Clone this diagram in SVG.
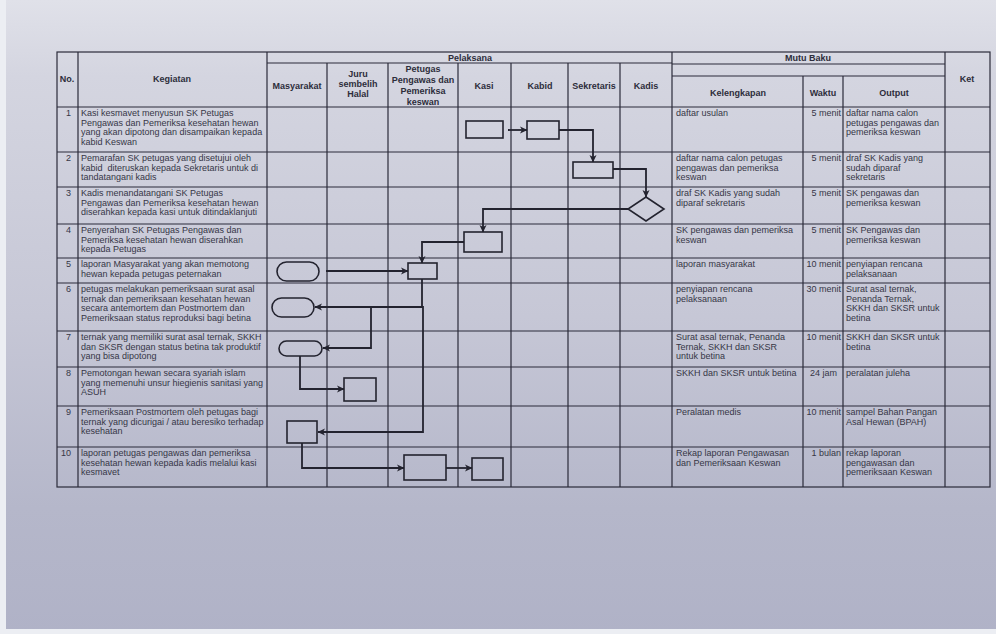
<svg xmlns="http://www.w3.org/2000/svg" width="996" height="634" viewBox="0 0 996 634">
<defs>
<linearGradient id="paper" x1="0" y1="0" x2="0" y2="1">
<stop offset="0" stop-color="#e0e1e9"/>
<stop offset="0.12" stop-color="#d4d5e0"/>
<stop offset="0.5" stop-color="#c6c7d6"/>
<stop offset="0.8" stop-color="#b5b7ca"/>
<stop offset="1" stop-color="#b0b2c7"/>
</linearGradient>
<marker id="ah" markerWidth="8" markerHeight="8" refX="7" refY="4" orient="auto" markerUnits="userSpaceOnUse">
<path d="M0,0.5 L7.5,4 L0,7.5 L2,4 Z" fill="#23232f"/>
</marker>
<style>
.grid{stroke:#2b2b3a;stroke-width:1.2;fill:none}
.sh{stroke:#23232f;stroke-width:1.6;fill:none}
.cn{stroke:#23232f;stroke-width:1.8;fill:none;marker-end:url(#ah)}
text{font-family:"Liberation Sans",Arial,sans-serif;fill:#363646}
.h{font-size:9px;font-weight:bold;text-anchor:middle;fill:#2d2d3b}
.t{font-size:9px}
.n{font-size:9px;text-anchor:end}
.w{font-size:9px;text-anchor:end}
</style>
</defs>
<rect x="0" y="0" width="996" height="634" fill="url(#paper)"/>
<rect x="0" y="0" width="6" height="634" fill="#eceef3"/>
<rect x="0" y="629" width="996" height="5" fill="#eceef3"/>

<g id="table">
<rect class="grid" x="57" y="52" width="933" height="435"/>
<line class="grid" x1="267" y1="63" x2="672" y2="63"/>
<line class="grid" x1="672" y1="64" x2="945" y2="64"/>
<line class="grid" x1="672" y1="76" x2="945" y2="76"/>
<line class="grid" x1="57" y1="107" x2="990" y2="107"/>
<line class="grid" x1="57" y1="152" x2="990" y2="152"/>
<line class="grid" x1="57" y1="187" x2="990" y2="187"/>
<line class="grid" x1="57" y1="224" x2="990" y2="224"/>
<line class="grid" x1="57" y1="258" x2="990" y2="258"/>
<line class="grid" x1="57" y1="283" x2="990" y2="283"/>
<line class="grid" x1="57" y1="331" x2="990" y2="331"/>
<line class="grid" x1="57" y1="367" x2="990" y2="367"/>
<line class="grid" x1="57" y1="406" x2="990" y2="406"/>
<line class="grid" x1="57" y1="447" x2="990" y2="447"/>
<line class="grid" x1="78" y1="52" x2="78" y2="487"/>
<line class="grid" x1="267" y1="52" x2="267" y2="487"/>
<line class="grid" x1="327" y1="63" x2="327" y2="487"/>
<line class="grid" x1="388" y1="63" x2="388" y2="487"/>
<line class="grid" x1="458" y1="63" x2="458" y2="487"/>
<line class="grid" x1="511" y1="63" x2="511" y2="487"/>
<line class="grid" x1="568" y1="63" x2="568" y2="487"/>
<line class="grid" x1="620" y1="63" x2="620" y2="487"/>
<line class="grid" x1="672" y1="52" x2="672" y2="487"/>
<line class="grid" x1="803" y1="76" x2="803" y2="487"/>
<line class="grid" x1="843" y1="76" x2="843" y2="487"/>
<line class="grid" x1="945" y1="52" x2="945" y2="487"/>
</g>

<g id="headers">
<text class="h" x="67" y="82">No.</text>
<text class="h" x="172" y="82">Kegiatan</text>
<text class="h" x="470" y="61">Pelaksana</text>
<text class="h" x="297" y="89">Masyarakat</text>
<text class="h" x="358" y="77">Juru</text>
<text class="h" x="358" y="87">sembelih</text>
<text class="h" x="358" y="97">Halal</text>
<text class="h" x="423" y="72">Petugas</text>
<text class="h" x="423" y="83">Pengawas dan</text>
<text class="h" x="423" y="94">Pemeriksa</text>
<text class="h" x="423" y="105">keswan</text>
<text class="h" x="484" y="89">Kasi</text>
<text class="h" x="540" y="89">Kabid</text>
<text class="h" x="594" y="89">Sekretaris</text>
<text class="h" x="646" y="89">Kadis</text>
<text class="h" x="808" y="61">Mutu Baku</text>
<text class="h" x="738" y="96">Kelengkapan</text>
<text class="h" x="823" y="96">Waktu</text>
<text class="h" x="894" y="96">Output</text>
<text class="h" x="967" y="82">Ket</text>
</g>

<g id="numbers">
<text class="n" x="71" y="116">1</text>
<text class="n" x="71" y="161">2</text>
<text class="n" x="71" y="196">3</text>
<text class="n" x="71" y="233">4</text>
<text class="n" x="71" y="267">5</text>
<text class="n" x="71" y="292">6</text>
<text class="n" x="71" y="340">7</text>
<text class="n" x="71" y="376">8</text>
<text class="n" x="71" y="415">9</text>
<text class="n" x="71" y="456">10</text>
</g>

<g id="kegiatan">
<text class="t" x="81" y="116">Kasi kesmavet menyusun SK Petugas</text>
<text class="t" x="81" y="125.5">Pengawas dan Pemeriksa kesehatan hewan</text>
<text class="t" x="81" y="135">yang akan dipotong dan disampaikan kepada</text>
<text class="t" x="81" y="144.5">kabid Keswan</text>
<text class="t" x="81" y="161">Pemarafan SK petugas yang disetujui oleh</text>
<text class="t" x="81" y="170.5" xml:space="preserve">kabid  diteruskan kepada Sekretaris untuk di</text>
<text class="t" x="81" y="180">tandatangani kadis</text>
<text class="t" x="81" y="196">Kadis menandatangani SK Petugas</text>
<text class="t" x="81" y="205.5">Pengawas dan Pemeriksa kesehatan hewan</text>
<text class="t" x="81" y="215">diserahkan kepada kasi untuk ditindaklanjuti</text>
<text class="t" x="81" y="233">Penyerahan SK Petugas Pengawas dan</text>
<text class="t" x="81" y="242.5">Pemeriksa kesehatan hewan diserahkan</text>
<text class="t" x="81" y="252">kepada Petugas</text>
<text class="t" x="81" y="267">laporan Masyarakat yang akan memotong</text>
<text class="t" x="81" y="276.5">hewan kepada petugas peternakan</text>
<text class="t" x="81" y="292">petugas melakukan pemeriksaan surat asal</text>
<text class="t" x="81" y="301.5">ternak dan pemeriksaan kesehatan hewan</text>
<text class="t" x="81" y="311">secara antemortem dan Postmortem dan</text>
<text class="t" x="81" y="320.5">Pemeriksaan status reproduksi bagi betina</text>
<text class="t" x="81" y="340">ternak yang memiliki surat asal ternak, SKKH</text>
<text class="t" x="81" y="349.5">dan SKSR dengan status betina tak produktif</text>
<text class="t" x="81" y="359">yang bisa dipotong</text>
<text class="t" x="81" y="376">Pemotongan hewan secara syariah islam</text>
<text class="t" x="81" y="385.5">yang memenuhi unsur hiegienis sanitasi yang</text>
<text class="t" x="81" y="395">ASUH</text>
<text class="t" x="81" y="415">Pemeriksaan Postmortem oleh petugas bagi</text>
<text class="t" x="81" y="424.5">ternak yang dicurigai / atau beresiko terhadap</text>
<text class="t" x="81" y="434">kesehatan</text>
<text class="t" x="81" y="456">laporan petugas pengawas dan pemeriksa</text>
<text class="t" x="81" y="465.5">kesehatan hewan kepada kadis melalui kasi</text>
<text class="t" x="81" y="475">kesmavet</text>
</g>

<g id="kelengkapan">
<text class="t" x="676" y="116">daftar usulan</text>
<text class="t" x="676" y="161">daftar nama calon petugas</text>
<text class="t" x="676" y="170.5">pengawas dan pemeriksa</text>
<text class="t" x="676" y="180">keswan</text>
<text class="t" x="676" y="196">draf SK Kadis yang sudah</text>
<text class="t" x="676" y="205.5">diparaf sekretaris</text>
<text class="t" x="676" y="233">SK pengawas dan pemeriksa</text>
<text class="t" x="676" y="242.5">keswan</text>
<text class="t" x="676" y="267">laporan masyarakat</text>
<text class="t" x="676" y="292">penyiapan rencana</text>
<text class="t" x="676" y="301.5">pelaksanaan</text>
<text class="t" x="676" y="340">Surat asal ternak, Penanda</text>
<text class="t" x="676" y="349.5">Ternak, SKKH dan SKSR</text>
<text class="t" x="676" y="359">untuk betina</text>
<text class="t" x="676" y="376">SKKH dan SKSR untuk betina</text>
<text class="t" x="676" y="415">Peralatan medis</text>
<text class="t" x="676" y="456">Rekap laporan Pengawasan</text>
<text class="t" x="676" y="465.5">dan Pemeriksaan Keswan</text>
</g>

<g id="waktu">
<text class="w" x="841" y="116">5 menit</text>
<text class="w" x="841" y="161">5 menit</text>
<text class="w" x="841" y="196">5 menit</text>
<text class="w" x="841" y="233">5 menit</text>
<text class="w" x="841" y="267">10 menit</text>
<text class="w" x="841" y="292">30 menit</text>
<text class="w" x="841" y="340">10 menit</text>
<text class="w" x="837" y="376">24 jam</text>
<text class="w" x="841" y="415">10 menit</text>
<text class="w" x="841" y="456">1 bulan</text>
</g>

<g id="output">
<text class="t" x="846" y="116">daftar nama calon</text>
<text class="t" x="846" y="125.5">petugas pengawas dan</text>
<text class="t" x="846" y="135">pemeriksa keswan</text>
<text class="t" x="846" y="161">draf SK Kadis yang</text>
<text class="t" x="846" y="170.5">sudah diparaf</text>
<text class="t" x="846" y="180">sekretaris</text>
<text class="t" x="846" y="196">SK pengawas dan</text>
<text class="t" x="846" y="205.5">pemeriksa keswan</text>
<text class="t" x="846" y="233">SK Pengawas dan</text>
<text class="t" x="846" y="242.5">pemeriksa keswan</text>
<text class="t" x="846" y="267">penyiapan rencana</text>
<text class="t" x="846" y="276.5">pelaksanaan</text>
<text class="t" x="846" y="292">Surat asal ternak,</text>
<text class="t" x="846" y="301.5">Penanda Ternak,</text>
<text class="t" x="846" y="311">SKKH dan SKSR untuk</text>
<text class="t" x="846" y="320.5">betina</text>
<text class="t" x="846" y="340">SKKH dan SKSR untuk</text>
<text class="t" x="846" y="349.5">betina</text>
<text class="t" x="846" y="376">peralatan juleha</text>
<text class="t" x="846" y="415">sampel Bahan Pangan</text>
<text class="t" x="846" y="424.5">Asal Hewan (BPAH)</text>
<text class="t" x="846" y="456">rekap laporan</text>
<text class="t" x="846" y="465.5">pengawasan dan</text>
<text class="t" x="846" y="475">pemeriksaan Keswan</text>
</g>

<g id="connectors">
<path class="cn" d="M508,130 H527"/>
<path class="cn" d="M559,130 H593 V162"/>
<path class="cn" d="M613,169 H646 V197"/>
<path class="cn" d="M628,209 H483 V232"/>
<path class="cn" d="M464,242 H422 V263"/>
<path class="cn" d="M326,271 H408"/>
<path class="cn" d="M422,279 V307 H315"/>
<path class="cn" d="M422,307 H423 V432 H318"/>
<path class="cn" d="M371,307 V348 H323"/>
<path class="cn" d="M300,356 V389 H344"/>
<path class="cn" d="M302,443 V468 H404"/>
<path class="cn" d="M446,468 H472"/>
</g>

<g id="n1"><rect class="sh" x="466" y="121" width="37" height="17"/></g>
<g id="n2"><rect class="sh" x="527" y="121" width="32" height="18"/></g>
<g id="n3"><rect class="sh" x="573" y="162" width="40" height="16"/></g>
<g id="n4"><path class="sh" d="M646,197 L664,209 L646,221 L628,209 Z"/></g>
<g id="n5"><rect class="sh" x="464" y="232" width="38" height="20"/></g>
<g id="n6"><rect class="sh" x="277" y="262" width="42" height="19" rx="9.5"/></g>
<g id="n7"><rect class="sh" x="408" y="263" width="29" height="16"/></g>
<g id="n8"><rect class="sh" x="272" y="298" width="42" height="19" rx="9.5"/></g>
<g id="n9"><rect class="sh" x="279" y="341" width="43" height="15" rx="7.5"/></g>
<g id="n10"><rect class="sh" x="344" y="378" width="32" height="23"/></g>
<g id="n11"><rect class="sh" x="287" y="421" width="30" height="22"/></g>
<g id="n12"><rect class="sh" x="404" y="455" width="42" height="25"/></g>
<g id="n13"><rect class="sh" x="472" y="458" width="31" height="22"/></g>
</svg>
